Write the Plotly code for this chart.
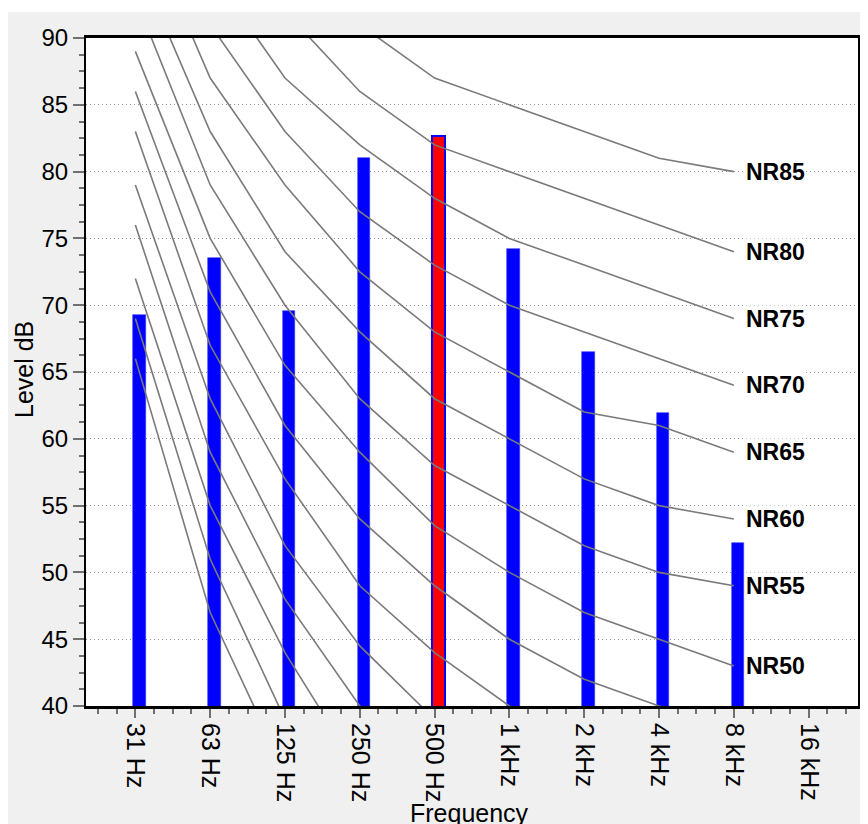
import plotly.graph_objects as go

# ---------------- data ----------------
freq_labels = ["31 Hz", "63 Hz", "125 Hz", "250 Hz", "500 Hz",
               "1 kHz", "2 kHz", "4 kHz", "8 kHz", "16 kHz"]
levels = [69.3, 73.5, 69.6, 81.0, 82.7, 74.2, 66.5, 61.9, 52.2]
highlight_band = "500 Hz"

# NR (noise rating) curves, values at 31 Hz ... 8 kHz
nr15 = [66, 47, 35, 26, 19, 15, 12, 9, 7]
nr20 = [69, 51, 39, 31, 24, 20, 17, 14, 13]
nr25 = [72, 55, 44, 35, 29, 25, 22, 20, 18]
nr30 = [76, 59, 48, 40, 34, 30, 27, 25, 23]
nr35 = [79, 63, 52, 44.5, 39, 35, 32, 30, 28]
nr40 = [83, 67, 57, 49, 44, 40, 37, 35, 33]
nr45 = [86, 71, 61, 54, 49, 45, 42, 40, 38]
nr50 = [89, 75, 65.5, 59, 53.5, 50, 47, 45, 43]
nr55 = [93, 79, 70, 63, 58, 55, 52, 50, 49]
nr60 = [96, 83, 74, 68, 63, 60, 57, 55, 54]
nr65 = [100, 87, 79, 72.5, 68, 65, 62, 61, 59]
nr70 = [103, 91, 83, 77, 73, 70, 68, 66, 64]
nr75 = [106, 95, 87, 82, 78, 75, 73, 71, 69]
nr80 = [110, 99, 92, 86, 82, 80, 78, 76, 74]
nr85 = [113, 103, 96, 91, 87, 85, 83, 81, 80]

nr_ratings = [15, 20, 25, 30, 35, 40, 45, 50, 55, 60, 65, 70, 75, 80, 85]
nr_curves = [nr15, nr20, nr25, nr30, nr35, nr40, nr45, nr50,
             nr55, nr60, nr65, nr70, nr75, nr80, nr85]
labelled_ratings = [50, 55, 60, 65, 70, 75, 80, 85]

y_ticks = [40, 45, 50, 55, 60, 65, 70, 75, 80, 85, 90]

# ---------------- styling ----------------
FONT = "Liberation Sans, Arial, sans-serif"
BLUE = "#0000ff"
RED = "#ff0000"
CURVE = "#7a7a7a"
PANEL = "#f0f0f0"

OFF = 8  # page body margin
W, H = 860, 816
ML, MR, MT, MB = 78, 10, 30, 118
PW, PH = W - ML - MR, H - MT - MB

def px_to_paper_x(px):  # page pixel -> paper
    return (px - OFF - ML) / PW

def px_to_paper_y(py):
    return (H - MB - (py - OFF)) / PH

fig = go.Figure()

band_x = list(range(len(freq_labels)))
bar_x = band_x[:len(levels)]
bar_colors = [RED if freq_labels[i] == highlight_band else BLUE for i in bar_x]
bar_line_colors = [BLUE if freq_labels[i] == highlight_band else "#3333ff" for i in bar_x]
bar_line_widths = [2 if freq_labels[i] == highlight_band else 0.6 for i in bar_x]

fig.add_trace(go.Bar(
    x=bar_x, y=levels, width=0.17, offset=-0.03,
    marker=dict(color=bar_colors,
                line=dict(color=bar_line_colors, width=bar_line_widths)),
    showlegend=False, hoverinfo="skip",
))

for rating, curve in zip(nr_ratings, nr_curves):
    fig.add_trace(go.Scatter(
        x=band_x[:len(curve)], y=curve, mode="lines",
        line=dict(color=CURVE, width=1.6),
        showlegend=False, hoverinfo="skip",
    ))
    if rating in labelled_ratings:
        fig.add_annotation(
            x=band_x[len(curve) - 1], y=curve[-1], xref="x", yref="y",
            text=f"<b>NR{rating}</b>", showarrow=False,
            xanchor="left", yanchor="middle", xshift=11,
            font=dict(family=FONT, size=23, color="black"),
            bgcolor="white", borderpad=0,
        )

# axis titles as annotations
fig.add_annotation(
    x=px_to_paper_x(24), y=px_to_paper_y(370), xref="paper", yref="paper",
    text="Level dB", textangle=-90, showarrow=False,
    xanchor="center", yanchor="middle",
    font=dict(family=FONT, size=25, color="black"),
)
fig.add_annotation(
    x=px_to_paper_x(469), y=px_to_paper_y(813), xref="paper", yref="paper",
    text="Frequency", showarrow=False,
    xanchor="center", yanchor="middle",
    font=dict(family=FONT, size=25, color="black"),
)

# white strip above the grey panel
fig.add_shape(type="rect", xref="paper", yref="paper", layer="below",
              x0=px_to_paper_x(-5), x1=px_to_paper_x(W + 20),
              y0=px_to_paper_y(12), y1=px_to_paper_y(-5),
              fillcolor="white", line=dict(width=0))

fig.update_layout(
    width=W, height=H,
    margin=dict(l=ML, r=MR, t=MT, b=MB, autoexpand=False),
    paper_bgcolor=PANEL, plot_bgcolor="white",
    font=dict(family=FONT, size=23, color="black"),
    bargap=0, showlegend=False,
)

fig.update_xaxes(
    range=[-0.66, 9.66], tickmode="array", tickvals=band_x, ticktext=freq_labels,
    tickangle=90, ticks="outside", ticklen=9, tickwidth=1.5, tickcolor="#707070",
    tickfont=dict(family=FONT, size=25, color="black"),
    showline=True, linecolor="black", linewidth=3, mirror=True,
    showgrid=False, zeroline=False,
    minor=dict(dtick=0.25, tick0=0, ticks="outside", ticklen=5,
               tickwidth=1.5, tickcolor="#707070", showgrid=False),
)
fig.update_yaxes(
    range=[40, 90], tickmode="array", tickvals=y_ticks,
    ticks="outside", ticklen=11, tickwidth=1.5, tickcolor="#707070",
    tickfont=dict(family=FONT, size=24, color="black"),
    showline=True, linecolor="black", linewidth=2, mirror=True,
    showgrid=True, gridcolor="#909090", gridwidth=1, griddash="1px,3px",
    zeroline=False,
    minor=dict(dtick=1.25, tick0=40, ticks="outside", ticklen=5,
               tickwidth=1.5, tickcolor="#707070", showgrid=False),
)

fig.write_html("out.html")
